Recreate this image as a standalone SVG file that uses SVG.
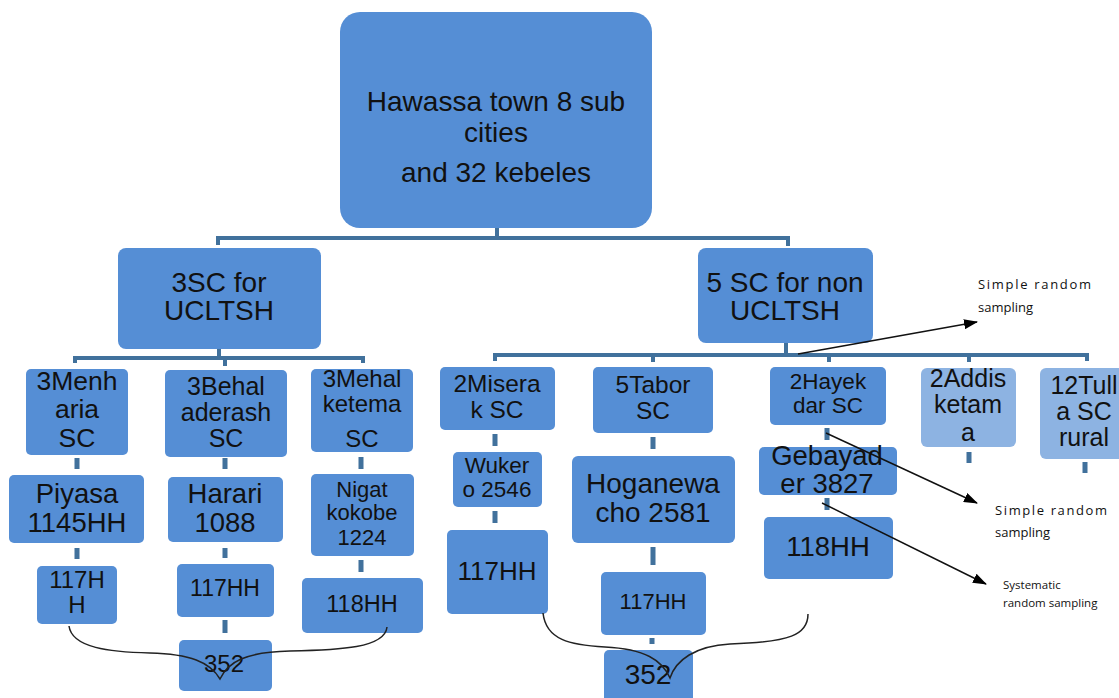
<svg xmlns="http://www.w3.org/2000/svg" width="1119" height="698" viewBox="0 0 1119 698">
<defs>
<style>
.box{fill:#558ed5;}
.lt{fill:#8db3e2;}
.t{font-family:"Liberation Sans",Arial,sans-serif;fill:#111;text-anchor:middle;}
.c{stroke:#41719c;stroke-width:4;fill:none;}
.s{stroke:#41719c;stroke-width:5;fill:none;}
.br{stroke:#222;stroke-width:1.5;fill:none;}
.ar{stroke:#111;stroke-width:1.5;fill:none;marker-end:url(#ah);}
.a{font-family:"Open Sans","Liberation Sans",sans-serif;fill:#111;}
</style>
<marker id="ah" markerUnits="userSpaceOnUse" markerWidth="14" markerHeight="10" refX="13" refY="5" orient="auto">
<path d="M0,0 L14,5 L0,10 Z" fill="#000"/>
</marker>
</defs>
<rect width="1119" height="698" fill="#fff"/>

<g id="connectors">
<path class="c" d="M497,228 V238 M218,245 V238 H788 V246"/>
<path class="c" d="M219,349 V358 M75,363 V358 H363 V363 M225,358 V366"/>
<path class="c" d="M786,343 V355 M495,361 V355 H1087 V361 M653,355 V362 M829,355 V362 M969,355 V362"/>
<path class="s" d="M77,458 V469 M225,458 V469 M361,457 V469 M77,548 V559 M225,548 V558 M361,560 V572 M225,620 V633"/>
<path class="s" d="M495,434 V446 M495,511 V523 M653,437 V449 M653,547 V565 M652,638 V644 M827,428 V440 M827,498 V510 M969,452 V463 M1085,462 V473"/>
</g>

<g id="n-root"><rect class="box" x="340" y="12" width="312" height="216" rx="20"/>
<text class="t" font-size="28" x="496" y="111">Hawassa town 8 sub</text>
<text class="t" font-size="28" x="496" y="142">cities</text>
<text class="t" font-size="28" x="496" y="182">and 32 kebeles</text></g>

<g id="n-3sc"><rect class="box" x="118" y="248" width="203" height="101" rx="8"/>
<text class="t" font-size="28" x="219" y="292">3SC for</text>
<text class="t" font-size="28" x="219" y="320">UCLTSH</text></g>

<g id="n-5sc"><rect class="box" x="698" y="248" width="175" height="95" rx="8"/>
<text class="t" font-size="28" x="785" y="292">5 SC for non</text>
<text class="t" font-size="28" x="785" y="320">UCLTSH</text></g>

<g id="n-menharia"><rect class="box" x="26" y="369" width="102" height="86" rx="5"/>
<text class="t" font-size="26.5" x="77" y="390">3Menh</text>
<text class="t" font-size="26.5" x="77" y="418">aria</text>
<text class="t" font-size="26.5" x="77" y="447">SC</text></g>

<g id="n-behal"><rect class="box" x="165" y="370" width="122" height="87" rx="5"/>
<text class="t" font-size="25" x="226" y="395">3Behal</text>
<text class="t" font-size="25" x="226" y="421">aderash</text>
<text class="t" font-size="25" x="226" y="447">SC</text></g>

<g id="n-mehal"><rect class="box" x="311" y="369" width="102" height="83" rx="5"/>
<text class="t" font-size="24" x="362" y="387">3Mehal</text>
<text class="t" font-size="24" x="362" y="412">ketema</text>
<text class="t" font-size="24" x="362" y="447">SC</text></g>

<g id="n-piyasa"><rect class="box" x="9" y="475" width="135" height="68" rx="5"/>
<text class="t" font-size="27.5" x="77" y="503">Piyasa</text>
<text class="t" font-size="27.5" x="77" y="532">1145HH</text></g>

<g id="n-harari"><rect class="box" x="168" y="477" width="115" height="65" rx="5"/>
<text class="t" font-size="27.5" x="225" y="503">Harari</text>
<text class="t" font-size="27.5" x="225" y="532">1088</text></g>

<g id="n-nigat"><rect class="box" x="311" y="474" width="103" height="82" rx="5"/>
<text class="t" font-size="22" x="362" y="497">Nigat</text>
<text class="t" font-size="22" x="362" y="520">kokobe</text>
<text class="t" font-size="22" x="362" y="545">1224</text></g>

<g id="n-117a"><rect class="box" x="37" y="566" width="80" height="58" rx="5"/>
<text class="t" font-size="24" x="77" y="588">117H</text>
<text class="t" font-size="24" x="77" y="613">H</text></g>

<g id="n-117b"><rect class="box" x="177" y="564" width="97" height="53" rx="5"/>
<text class="t" font-size="23" x="225" y="596">117HH</text></g>

<g id="n-118a"><rect class="box" x="302" y="578" width="121" height="55" rx="5"/>
<text class="t" font-size="23.5" x="362" y="612">118HH</text></g>

<g id="n-352a"><rect class="box" x="179" y="640" width="93" height="51" rx="5"/>
<text class="t" font-size="24" x="224" y="672">352</text></g>

<g id="n-miserak"><rect class="box" x="440" y="367" width="115" height="63" rx="5"/>
<text class="t" font-size="24.5" x="497" y="392">2Misera</text>
<text class="t" font-size="24.5" x="497" y="418">k SC</text></g>

<g id="n-tabor"><rect class="box" x="593" y="367" width="120" height="66" rx="5"/>
<text class="t" font-size="24.5" x="653" y="393">5Tabor</text>
<text class="t" font-size="24.5" x="653" y="419">SC</text></g>

<g id="n-hayek"><rect class="box" x="770" y="367" width="116" height="58" rx="5"/>
<text class="t" font-size="22.5" x="828" y="389">2Hayek</text>
<text class="t" font-size="22.5" x="828" y="413">dar SC</text></g>

<g id="n-addis"><rect class="lt" x="921" y="368" width="95" height="79" rx="6"/>
<text class="t" font-size="25" x="968" y="387">2Addis</text>
<text class="t" font-size="25" x="968" y="413">ketam</text>
<text class="t" font-size="25" x="968" y="441">a</text></g>

<g id="n-tulla"><rect class="lt" x="1040" y="368" width="90" height="91" rx="6"/>
<text class="t" font-size="25" x="1084" y="394">12Tull</text>
<text class="t" font-size="25" x="1084" y="420">a SC</text>
<text class="t" font-size="25" x="1084" y="446">rural</text></g>

<g id="n-wukero"><rect class="box" x="453" y="452" width="89" height="55" rx="5"/>
<text class="t" font-size="22.5" x="497" y="473">Wuker</text>
<text class="t" font-size="22.5" x="497" y="497">o 2546</text></g>

<g id="n-hoganewacho"><rect class="box" x="572" y="456" width="163" height="87" rx="6"/>
<text class="t" font-size="28" x="653" y="493">Hoganewa</text>
<text class="t" font-size="28" x="653" y="522">cho 2581</text></g>

<g id="n-gebayader"><rect class="box" x="759" y="447" width="138" height="48" rx="5"/>
<text class="t" font-size="27.5" x="827" y="465">Gebayad</text>
<text class="t" font-size="27.5" x="827" y="493">er 3827</text></g>

<g id="n-117c"><rect class="box" x="447" y="530" width="101" height="84" rx="5"/>
<text class="t" font-size="26" x="497" y="580">117HH</text></g>

<g id="n-117d"><rect class="box" x="601" y="572" width="105" height="63" rx="5"/>
<text class="t" font-size="22" x="653" y="609">117HH</text></g>

<g id="n-118b"><rect class="box" x="764" y="517" width="129" height="62" rx="5"/>
<text class="t" font-size="27.5" x="828" y="556">118HH</text></g>

<g id="n-352b"><rect class="box" x="604" y="650" width="89" height="60" rx="5"/>
<text class="t" font-size="28" x="648" y="684">352</text></g>

<g id="connectors-overlay">
<path class="br" d="M69,626 C72,648 110,652 150,653 C190,654 210,662 220,679 C228,662 245,652 290,651 C340,650 385,648 387,627"/>
<path class="br" d="M543,613 C546,640 570,645 605,647 C645,649 662,660 670,678 C676,660 695,646 730,644 C790,642 808,635 808,614"/>
<path class="ar" d="M798,354 L977,322"/>
<path class="ar" d="M826,433 L977,503"/>
<path class="ar" d="M822,503 L986,584"/>
</g>

<g id="labels">
<text class="a" font-size="13" x="978" y="289" textLength="113">Simple  random</text>
<text class="a" font-size="13" x="978" y="312">sampling</text>
<text class="a" font-size="13" x="995" y="515" textLength="112">Simple  random</text>
<text class="a" font-size="13" x="995" y="537">sampling</text>
<text class="a" font-size="11.5" x="1003" y="589">Systematic</text>
<text class="a" font-size="11.5" x="1003" y="607">random sampling</text>
</g>
</svg>
